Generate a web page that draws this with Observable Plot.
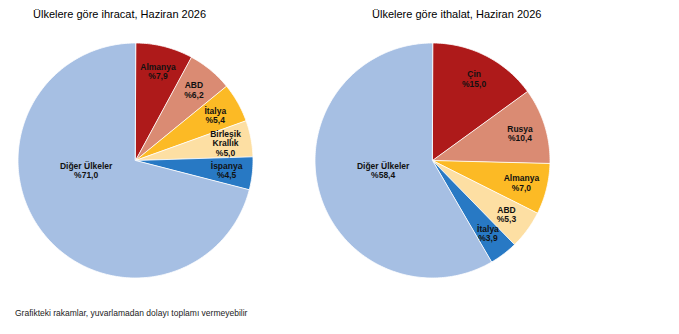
<!DOCTYPE html>
<html>
<head>
<meta charset="utf-8">
<script src="https://cdn.jsdelivr.net/npm/d3@7"></script>
<script src="https://cdn.jsdelivr.net/npm/@observablehq/plot@0.6"></script>
<style>
  html, body { margin: 0; padding: 0; background: #fff; }
  body { width: 679px; height: 334px; position: relative; overflow: hidden;
         font-family: Arial, "Liberation Sans", sans-serif; }
  .title { position: absolute; font-size: 11px; line-height: 11px; color: #000; white-space: nowrap; }
  .caption { position: absolute; font-size: 8.5px; line-height: 9px; color: #222; white-space: nowrap; }
  .pie { position: absolute; }
</style>
</head>
<body>
<div class="title" id="t1" style="left:33px; top:9px;"></div>
<div class="title" id="t2" style="left:372px; top:9px;"></div>
<div class="pie" id="p1" style="left:15px; top:40px;"></div>
<div class="pie" id="p2" style="left:312px; top:40px;"></div>
<div class="caption" id="cap" style="left:15px; top:309px;"></div>
<script>
// ---- data ----
const exportTitle = "Ülkelere göre ihracat, Haziran 2026";
const exportNames = ["Almanya", "ABD", "İtalya", "Birleşik Krallık", "İspanya", "Diğer Ülkeler"];
const exportValues = [7.9, 6.2, 5.4, 5.0, 4.5, 71.0];

const importTitle = "Ülkelere göre ithalat, Haziran 2026";
const importNames = ["Çin", "Rusya", "Almanya", "ABD", "İtalya", "Diğer Ülkeler"];
const importValues = [15.0, 10.4, 7.0, 5.3, 3.9, 58.4];

const sliceColors = ["#AE1A1A", "#DA8B73", "#FCBA25", "#FDDFA3", "#2879C4", "#A6BFE3"];
const captionText = "Grafikteki rakamlar, yuvarlamadan dolayı toplamı vermeyebilir";

// ---- helpers ----
function fmt(v) { return "%" + v.toFixed(1).replace(".", ","); }

function slices(names, values) {
  const total = d3.sum(values);
  let acc = 0;
  return names.map((name, i) => {
    const a0 = acc / total * 2 * Math.PI;
    acc += values[i];
    const a1 = acc / total * 2 * Math.PI;
    const n = Math.max(4, Math.ceil((a1 - a0) / (Math.PI / 180)));
    const ring = [[0, 0]];
    for (let k = 0; k <= n; k++) {
      const a = a0 + (a1 - a0) * k / n;
      ring.push([Math.sin(a), -Math.cos(a)]);
    }
    ring.push([0, 0]);
    const mid = (a0 + a1) / 2;
    return {
      type: "Feature",
      properties: { name, value: values[i], mid, share: values[i] / total },
      geometry: { type: "Polygon", coordinates: [ring] }
    };
  });
}

function pie(names, values) {
  const feats = slices(names, values);
  const biggest = d3.greatestIndex(values);
  const small = feats.filter((f, i) => i !== biggest);
  const big = [feats[biggest]];
  const R = 0.78;
  return Plot.plot({
    width: 240,
    height: 240,
    margin: 0,
    inset: 2.5,
    projection: {
      type: "identity",
      domain: { type: "MultiPoint", coordinates: [[-1, -1], [1, 1]] }
    },
    color: { domain: names, range: sliceColors },
    style: { fontFamily: "Arial, 'Liberation Sans', sans-serif", overflow: "visible" },
    marks: [
      Plot.geo(feats, { fill: d => d.properties.name, stroke: "white", strokeWidth: 0.8 }),
      Plot.text(small, {
        x: d => R * Math.sin(d.properties.mid),
        y: d => -R * Math.cos(d.properties.mid),
        text: d => d.properties.name + "\n" + fmt(d.properties.value),
        lineWidth: 6,
        lineHeight: 1.12,
        fontSize: 8.5,
        fontWeight: "bold",
        fill: "#111"
      }),
      Plot.text(big, {
        x: () => -0.42,
        y: () => 0.083,
        text: d => d.properties.name + "\n" + fmt(d.properties.value),
        lineHeight: 1.12,
        fontSize: 8.5,
        fontWeight: "bold",
        fill: "#111"
      })
    ]
  });
}

document.getElementById("t1").textContent = exportTitle;
document.getElementById("t2").textContent = importTitle;
document.getElementById("cap").textContent = captionText;
document.getElementById("p1").appendChild(pie(exportNames, exportValues));
document.getElementById("p2").appendChild(pie(importNames, importValues));
</script>
</body>
</html>
